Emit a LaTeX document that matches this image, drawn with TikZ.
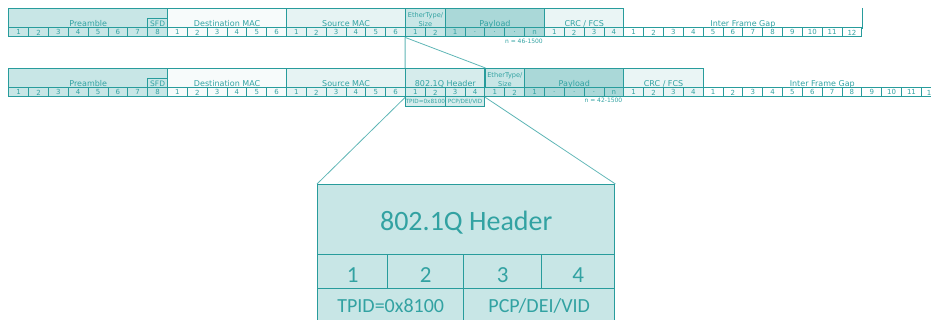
\documentclass[tikz,border=0pt]{standalone}
\usepackage{fontspec}
\setmainfont{DejaVu Sans}
\newfontfamily\carl{Carlito}
\usetikzlibrary{backgrounds}
\definecolor{tl}{RGB}{40,156,156}
\definecolor{tx}{RGB}{50,162,162}
\definecolor{cn}{RGB}{95,182,182}
\definecolor{cpre}{RGB}{200,230,230}
\definecolor{cdst}{RGB}{247,251,251}
\definecolor{csrc}{RGB}{230,243,243}
\definecolor{ceth}{RGB}{200,230,230}
\definecolor{cpay}{RGB}{170,216,216}
\definecolor{ccrc}{RGB}{234,245,245}
\definecolor{cq}{RGB}{214,236,236}
\definecolor{cbig}{RGB}{200,230,230}
\newcommand\mycells[5]{%
  \foreach \t [count=\i] in {#5} {
    \node[cell=#4] (#1\i) at ({8.3+(#2+\i-1)*19.84},#3) {\t};
  }}
\begin{document}
\begin{tikzpicture}[x=1pt,y=-1pt,
  hdr/.style={draw=tl, line width=1.1pt, fill=#1, inner sep=0pt, anchor=north west,
    minimum height=19.5pt, text height=17.7pt, text depth=1.8pt, text=tx,
    font=\fontsize{8}{9}\selectfont},
  cell/.style={draw=tl, line width=0.9pt, fill=#1, inner sep=0pt, anchor=north west,
    minimum width=19.84pt, minimum height=9pt, text=tx, font=\fontsize{7}{8}\selectfont},
  note/.style={inner sep=0pt, anchor=north east, text=tx, font=\fontsize{6}{7}\selectfont},
  sub/.style={draw=tl, line width=0.9pt, fill=cq, inner sep=0pt, anchor=north west,
    minimum width=39.68pt, minimum height=9.5pt, text=tx, font=\fontsize{5.7}{6}\selectfont},
  big/.style={draw=tl, line width=1.4pt, fill=cbig, inner sep=0pt, anchor=north west, text=tx},
  conn/.style={draw=cn, line width=0.8pt}
]
\useasboundingbox (0,0) rectangle (931,320);
\clip (0,0) rectangle (931,320);

% ---------- Row 1 ----------
\node[hdr=cpre, minimum width=158.72pt] (pre1) at (8.3,8) {Preamble};
\node[hdr=cpre, minimum width=19.84pt, minimum height=9.2pt, text height=7pt, text depth=1.2pt,
  font=\fontsize{7.5}{8}\selectfont] (sfd1) at (147.18,18.3) {SFD};
\node[hdr=cdst, minimum width=119.04pt] (dst1) at (167.02,8) {Destination MAC};
\node[hdr=csrc, minimum width=119.04pt] (src1) at (286.06,8) {Source MAC};
\node[hdr=ceth, minimum width=39.68pt, align=center, font=\fontsize{6.6}{8.6}\selectfont] (eth1) at (405.1,8) {EtherType/\\Size};
\node[hdr=cpay, minimum width=99.2pt] (pay1) at (444.78,8) {Payload};
\node[hdr=ccrc, minimum width=79.36pt] (crc1) at (543.98,8) {CRC / FCS};
\node[hdr=white, draw=none, fill=none, minimum width=238.08pt] (ifg1) at (623.34,8) {Inter Frame Gap};
\draw[draw=tl, line width=1.1pt] (ifg1.north east) -- (ifg1.south east);

\mycells{ap}{0}{27.5}{cpre}{1,2,3,4,5,6,7,8}
\mycells{ad}{8}{27.5}{cdst}{1,2,3,4,5,6}
\mycells{as}{14}{27.5}{csrc}{1,2,3,4,5,6}
\mycells{ae}{20}{27.5}{ceth}{1,2}
\mycells{ay}{22}{27.5}{cpay}{1,{.},{.},{.},n}
\mycells{ac}{27}{27.5}{ccrc}{1,2,3,4}
\mycells{ai}{31}{27.5}{white}{1,2,3,4,5,6,7,8,9,10,11,12}
\node[note] (n1) at (543,38.6) {n = 46-1500};

% ---------- Row 2 ----------
\node[hdr=cpre, minimum width=158.72pt] (pre2) at (8.3,68) {Preamble};
\node[hdr=cpre, minimum width=19.84pt, minimum height=9.2pt, text height=7pt, text depth=1.2pt,
  font=\fontsize{7.5}{8}\selectfont] (sfd2) at (147.18,78.3) {SFD};
\node[hdr=cdst, minimum width=119.04pt] (dst2) at (167.02,68) {Destination MAC};
\node[hdr=csrc, minimum width=119.04pt] (src2) at (286.06,68) {Source MAC};
\node[hdr=cq, minimum width=79.36pt] (q2) at (405.1,68) {802.1Q Header};
\node[hdr=ceth, minimum width=39.68pt, align=center, font=\fontsize{6.6}{8.6}\selectfont] (eth2) at (484.46,68) {EtherType/\\Size};
\node[hdr=cpay, minimum width=99.2pt] (pay2) at (524.14,68) {Payload};
\node[hdr=ccrc, minimum width=79.36pt] (crc2) at (623.34,68) {CRC / FCS};
\node[hdr=white, draw=none, fill=none, minimum width=238.08pt] (ifg2) at (702.7,68) {Inter Frame Gap};

\mycells{bp}{0}{87.5}{cpre}{1,2,3,4,5,6,7,8}
\mycells{bd}{8}{87.5}{cdst}{1,2,3,4,5,6}
\mycells{bs}{14}{87.5}{csrc}{1,2,3,4,5,6}
\mycells{bq}{20}{87.5}{cq}{1,2,3,4}
\mycells{be}{24}{87.5}{ceth}{1,2}
\mycells{by}{26}{87.5}{cpay}{1,{.},{.},{.},n}
\mycells{bc}{31}{87.5}{ccrc}{1,2,3,4}
\mycells{bi}{35}{87.5}{white}{1,2,3,4,5,6,7,8,9,10,11,12}
\node[note] (n2) at (622.5,98.2) {n = 42-1500};
\node[sub] (tp2) at (405.1,96.5) {TPID=0x8100};
\node[sub] (pc2) at (444.78,96.5) {PCP/DEI/VID};

% ---------- Detail box ----------
\node[big, minimum width=297pt, minimum height=70pt, text height=22pt, text depth=0pt,
  font=\carl\fontsize{28}{30}\selectfont] (bigh) at (317,184) {802.1Q Header};
\node[big, minimum width=70pt, minimum height=34pt, text height=21pt, text depth=0pt,
  font=\carl\fontsize{23}{26}\selectfont] (b1) at (317,254) {1};
\node[big, minimum width=76pt, minimum height=34pt, text height=21pt, text depth=0pt,
  font=\carl\fontsize{23}{26}\selectfont] (b2) at (387,254) {2};
\node[big, minimum width=78pt, minimum height=34pt, text height=21pt, text depth=0pt,
  font=\carl\fontsize{23}{26}\selectfont] (b3) at (463,254) {3};
\node[big, minimum width=73pt, minimum height=34pt, text height=21pt, text depth=0pt,
  font=\carl\fontsize{23}{26}\selectfont] (b4) at (541,254) {4};
\node[big, minimum width=146pt, minimum height=36pt, text height=14pt, text depth=2.6pt,
  font=\carl\fontsize{20}{24}\selectfont] (t1) at (317,288) {TPID=0x8100};
\node[big, minimum width=151pt, minimum height=36pt, text height=14pt, text depth=2.6pt,
  font=\carl\fontsize{20}{24}\selectfont] (t2) at (463,288) {PCP/DEI/VID};

% ---------- Connectors ----------
\begin{scope}[on background layer]
\draw[conn] (ae1.south west) -- (q2.north west);
\draw[conn] (ae1.south west) -- (q2.north east);
\draw[conn] (bq1.south west) -- (bigh.north west);
\draw[conn] (bq4.south east) -- (bigh.north east);
\end{scope}
\end{tikzpicture}
\end{document}
